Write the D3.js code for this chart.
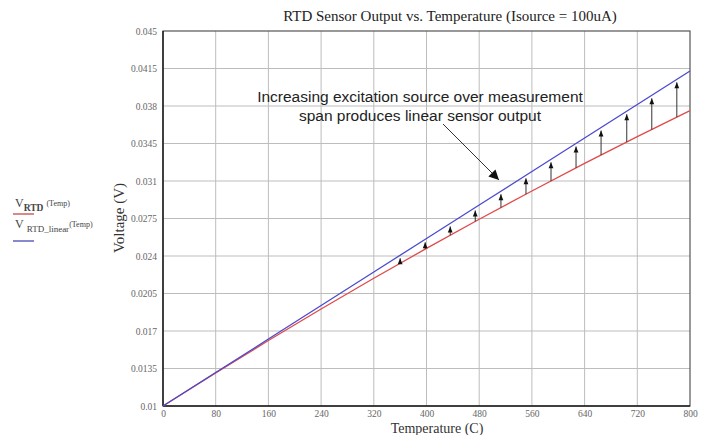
<!DOCTYPE html>
<html><head><meta charset="utf-8">
<script src="https://cdn.jsdelivr.net/npm/d3@7"></script>
<style>body{margin:0;background:#fff}svg{display:block}</style>
</head><body>
<script>
const temps = [0, 80, 160, 240, 320, 400, 480, 560, 640, 720, 800];
const vRTD = [0.01, 0.01309, 0.01611, 0.01905, 0.02192, 0.02471, 0.02743, 0.03007, 0.03264, 0.03514, 0.03757];
const vLinear = [0.01, 0.01313, 0.01625, 0.01938, 0.02251, 0.02563, 0.02876, 0.03189, 0.03501, 0.03814, 0.04127];
const arrowTemps = [360, 398, 436, 474, 513, 551, 589, 627, 665, 704, 742, 780];
const xTicks = [0, 80, 160, 240, 320, 400, 480, 560, 640, 720, 800];
const yTicks = [0.01, 0.0135, 0.017, 0.0205, 0.024, 0.0275, 0.031, 0.0345, 0.038, 0.0415, 0.045];
const yTickLabels = ["0.01","0.0135","0.017","0.0205","0.024","0.0275","0.031","0.0345","0.038","0.0415","0.045"];

const W = 702, H = 435;
const L = 163, R = 690, T = 31, B = 406;
const svg = d3.select("body").append("svg").attr("width", W).attr("height", H);
const x = d3.scaleLinear().domain([0, 800]).range([L, R]);
const y = d3.scaleLinear().domain([0.01, 0.045]).range([B, T]);
const serif = "'Liberation Serif','Times New Roman',serif";
const sans = "'Liberation Sans',Arial,sans-serif";

// grid
svg.append("g").selectAll("line").data(xTicks.slice(1, -1)).join("line")
  .attr("x1", d => x(d)).attr("x2", d => x(d)).attr("y1", T).attr("y2", B)
  .attr("stroke", "#bdbdbd").attr("stroke-width", 1);
svg.append("g").selectAll("line").data(yTicks.slice(1, -1)).join("line")
  .attr("y1", d => y(d)).attr("y2", d => y(d)).attr("x1", L).attr("x2", R)
  .attr("stroke", "#bdbdbd").attr("stroke-width", 1);

// frame
svg.append("rect").attr("x", L).attr("y", T).attr("width", R - L).attr("height", B - T)
  .attr("fill", "none").attr("stroke", "#555").attr("stroke-width", 1.2);
svg.append("line").attr("x1", L).attr("x2", L).attr("y1", T).attr("y2", B).attr("stroke", "#222").attr("stroke-width", 1.5);
svg.append("line").attr("x1", L).attr("x2", R).attr("y1", B).attr("y2", B).attr("stroke", "#222").attr("stroke-width", 1.5);

// axes tick labels via d3 axes (no lines)
const xAxis = svg.append("g").attr("transform", `translate(0,${B})`)
  .call(d3.axisBottom(x).tickValues(xTicks).tickSize(0).tickPadding(4).tickFormat(d3.format("d")));
const yAxis = svg.append("g").attr("transform", `translate(${L},0)`)
  .call(d3.axisLeft(y).tickValues(yTicks).tickSize(0).tickPadding(6).tickFormat((d, i) => yTickLabels[i]));
[xAxis, yAxis].forEach(a => {
  a.select(".domain").remove();
  a.selectAll("text").attr("font-family", serif).attr("font-size", 9.5).attr("fill", "#666");
});

// lines
const line = d3.line().x((d, i) => x(temps[i])).y(d => y(d));
svg.append("path").datum(vRTD).attr("d", line).attr("fill", "none").attr("stroke", "#e04a4a").attr("stroke-width", 1.3);
svg.append("path").datum(vLinear).attr("d", line).attr("fill", "none").attr("stroke", "#4a4ad0").attr("stroke-width", 1.3);

// interpolators for arrows (linear between listed readings)
const interp = (arr, t) => {
  const i = Math.min(Math.floor(t / 80), temps.length - 2);
  const f = (t - temps[i]) / 80;
  return arr[i] + f * (arr[i + 1] - arr[i]);
};

const defs = svg.append("defs");
defs.append("marker").attr("id", "ah").attr("viewBox", "0 0 10 10").attr("refX", 10).attr("refY", 5)
  .attr("markerWidth", 7).attr("markerHeight", 6).attr("markerUnits", "userSpaceOnUse").attr("orient", "auto")
  .append("path").attr("d", "M0,1 L10,5 L0,9 Z").attr("fill", "#111");
defs.append("marker").attr("id", "ah2").attr("viewBox", "0 0 10 10").attr("refX", 10).attr("refY", 5)
  .attr("markerWidth", 13).attr("markerHeight", 10).attr("markerUnits", "userSpaceOnUse").attr("orient", "auto")
  .append("path").attr("d", "M0,0 L10,5 L0,10 Z").attr("fill", "#111");

svg.append("g").selectAll("line").data(arrowTemps).join("line")
  .attr("x1", d => x(d)).attr("x2", d => x(d))
  .attr("y1", d => y(interp(vRTD, d)))
  .attr("y2", d => y(interp(vLinear, d)) + 3)
  .attr("stroke", "#333").attr("stroke-width", 1)
  .attr("marker-end", "url(#ah)");

// annotation
svg.append("text").attr("x", 420).attr("y", 102).attr("text-anchor", "middle")
  .attr("font-family", sans).attr("font-size", 15.5).attr("fill", "#222")
  .text("Increasing excitation source over measurement");
svg.append("text").attr("x", 420).attr("y", 121).attr("text-anchor", "middle")
  .attr("font-family", sans).attr("font-size", 15.5).attr("fill", "#222")
  .text("span produces linear sensor output");
svg.append("line").attr("x1", 443).attr("y1", 124).attr("x2", 499).attr("y2", 180)
  .attr("stroke", "#333").attr("stroke-width", 1).attr("marker-end", "url(#ah2)");

// title
svg.append("text").attr("x", 450).attr("y", 21).attr("text-anchor", "middle")
  .attr("font-family", serif).attr("font-size", 15).attr("fill", "#222")
  .text("RTD Sensor Output vs. Temperature (Isource = 100uA)");

// axis titles
svg.append("text").attr("x", 437).attr("y", 433).attr("text-anchor", "middle")
  .attr("font-family", serif).attr("font-size", 14).attr("fill", "#333").text("Temperature (C)");
svg.append("text").attr("transform", "translate(124,218) rotate(-90)").attr("text-anchor", "middle")
  .attr("font-family", serif).attr("font-size", 15).attr("fill", "#333").text("Voltage (V)");

// legend
const lg = svg.append("g").attr("font-family", serif).attr("fill", "#444");
const t1 = lg.append("text").attr("x", 15).attr("y", 207).attr("font-size", 12);
t1.append("tspan").text("V");
t1.append("tspan").attr("dy", 4).attr("font-size", 9.5).attr("font-weight", "bold").text("RTD");
t1.append("tspan").attr("dy", -5).attr("dx", 3).attr("font-size", 8).text("(Temp)");
lg.append("line").attr("x1", 13).attr("x2", 34).attr("y1", 214).attr("y2", 214).attr("stroke", "#d06060").attr("stroke-width", 1.5);
const t2 = lg.append("text").attr("x", 15).attr("y", 228).attr("font-size", 12);
t2.append("tspan").text("V");
t2.append("tspan").attr("dy", 4).attr("dx", 3).attr("font-size", 9).text("RTD_linear");
t2.append("tspan").attr("dy", -5).attr("font-size", 8).text("(Temp)");
lg.append("line").attr("x1", 13).attr("x2", 34).attr("y1", 241).attr("y2", 241).attr("stroke", "#6060c0").attr("stroke-width", 1.5);
</script>
</body></html>
